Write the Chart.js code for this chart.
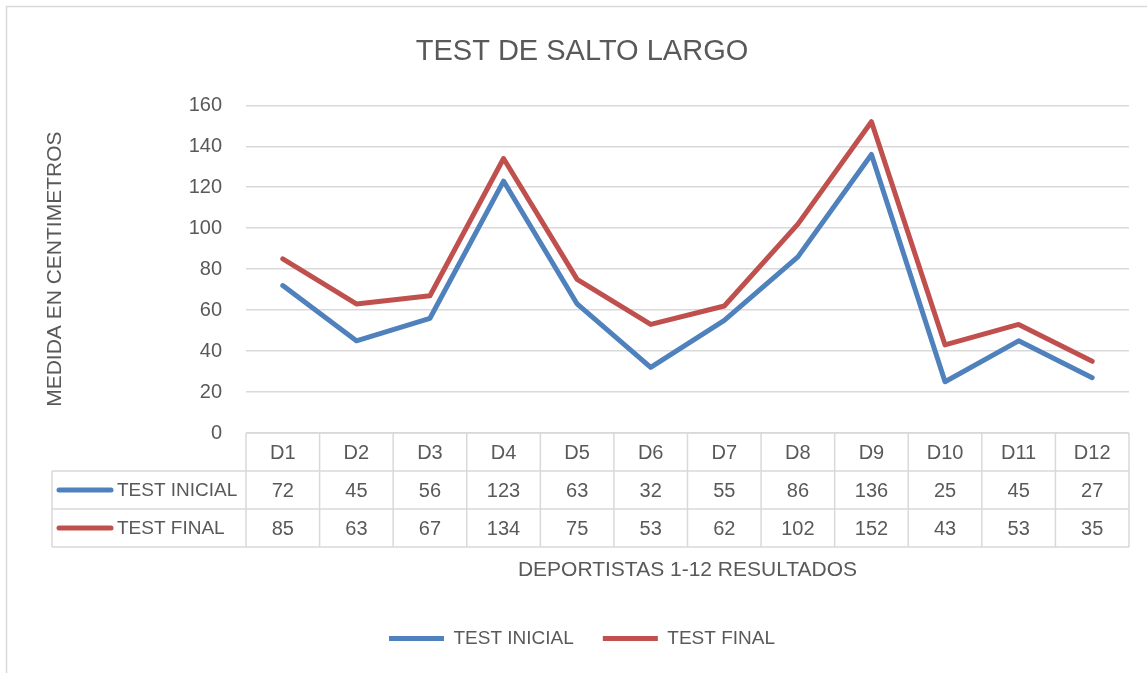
<!DOCTYPE html>
<html>
<head>
<meta charset="utf-8">
<script src="https://cdn.jsdelivr.net/npm/chart.js@4.4.1/dist/chart.umd.min.js"></script>
<style>
  html, body { margin: 0; padding: 0; background: #fff; }
  #wrap { width: 1147px; height: 673px; }
</style>
</head>
<body>
<div id="wrap"><canvas id="lineChart"></canvas></div>
<script>
// data
var categories = ["D1", "D2", "D3", "D4", "D5", "D6", "D7", "D8", "D9", "D10", "D11", "D12"];
var testInicial = [72, 45, 56, 123, 63, 32, 55, 86, 136, 25, 45, 27];
var testFinal = [85, 63, 67, 134, 75, 53, 62, 102, 152, 43, 53, 35];
var seriesNames = ["TEST INICIAL", "TEST FINAL"];
var seriesColors = ["#4f81bd", "#c0504d"];

var textColor = '#595959';
var gridColor = '#d9d9d9';
var fontFamily = '"Liberation Sans", Arial, sans-serif';

// outer frame of the chart object
var frame = {
  id: 'frame',
  beforeDraw: function(chart) {
    var ctx = chart.ctx;
    ctx.save();
    ctx.fillStyle = '#fff';
    ctx.fillRect(0, 0, chart.width, chart.height);
    ctx.strokeStyle = gridColor;
    ctx.lineWidth = 1.5;
    ctx.strokeRect(6.5, 6.5, chart.width + 20, chart.height + 20);
    ctx.restore();
  }
};

// data table under the plot, built on the x scale
var dataTable = {
  id: 'dataTable',
  afterDraw: function(chart) {
    var ctx = chart.ctx;
    var x = chart.scales.x;
    var area = chart.chartArea;
    var top = area.bottom;
    var rowH = 38;
    var tableLeft = 52;
    var half = (x.getPixelForValue(1) - x.getPixelForValue(0)) / 2;
    var rows = [testInicial, testFinal];

    ctx.save();
    ctx.strokeStyle = gridColor;
    ctx.lineWidth = 1.5;
    ctx.beginPath();
    ctx.moveTo(area.left, top);
    ctx.lineTo(area.right, top);
    for (var r = 1; r <= 3; r++) {
      ctx.moveTo(tableLeft, top + r * rowH);
      ctx.lineTo(area.right, top + r * rowH);
    }
    for (var i = 0; i <= categories.length; i++) {
      var px = x.getPixelForValue(i) - half;
      ctx.moveTo(px, top);
      ctx.lineTo(px, top + 3 * rowH);
    }
    ctx.moveTo(tableLeft, top + rowH);
    ctx.lineTo(tableLeft, top + 3 * rowH);
    ctx.stroke();

    ctx.fillStyle = textColor;
    ctx.textAlign = 'center';
    ctx.textBaseline = 'middle';
    ctx.font = '20px ' + fontFamily;
    categories.forEach(function(c, i) {
      ctx.fillText(c, x.getPixelForValue(i), top + rowH / 2 + 1);
    });
    rows.forEach(function(vals, r) {
      var cy = top + (r + 1) * rowH + rowH / 2 + 1;
      vals.forEach(function(v, i) {
        ctx.fillText(String(v), x.getPixelForValue(i), cy);
      });
    });

    // series keys in the first column
    ctx.textAlign = 'left';
    ctx.font = '19px ' + fontFamily;
    ctx.lineCap = 'round';
    ctx.lineWidth = 5;
    seriesNames.forEach(function(name, r) {
      var cy = top + (r + 1) * rowH + rowH / 2;
      ctx.strokeStyle = seriesColors[r];
      ctx.beginPath();
      ctx.moveTo(59, cy);
      ctx.lineTo(111, cy);
      ctx.stroke();
      ctx.fillStyle = textColor;
      ctx.fillText(name, 117, cy + 1);
    });
    ctx.restore();
  }
};

var ctxL = document.getElementById("lineChart").getContext('2d');
var myLineChart = new Chart(ctxL, {
  type: 'line',
  data: {
    labels: categories,
    datasets: [{
      label: seriesNames[0],
      data: testInicial,
      borderColor: seriesColors[0],
      backgroundColor: seriesColors[0],
      borderWidth: 5,
      borderCapStyle: 'round',
      borderJoinStyle: 'round',
      pointRadius: 0,
      tension: 0
    },
    {
      label: seriesNames[1],
      data: testFinal,
      borderColor: seriesColors[1],
      backgroundColor: seriesColors[1],
      borderWidth: 5,
      borderCapStyle: 'round',
      borderJoinStyle: 'round',
      pointRadius: 0,
      tension: 0
    }
    ]
  },
  options: {
    responsive: true,
    maintainAspectRatio: false,
    animation: false,
    layout: { padding: { left: 35, right: 18, top: 0, bottom: 15 } },
    plugins: {
      title: {
        display: true,
        text: 'TEST DE SALTO LARGO',
        color: textColor,
        font: { family: fontFamily, size: 29, weight: 'normal' },
        padding: { top: 35, bottom: 35.5 }
      },
      legend: {
        position: 'bottom',
        labels: {
          color: textColor,
          font: { family: fontFamily, size: 19 },
          usePointStyle: true,
          pointStyle: 'line',
          pointStyleWidth: 55,
          padding: 29
        }
      },
      tooltip: { enabled: false }
    },
    scales: {
      x: {
        offset: true,
        grid: { display: false },
        border: { display: false },
        ticks: { display: false },
        title: {
          display: true,
          text: 'DEPORTISTAS 1-12 RESULTADOS',
          color: textColor,
          font: { family: fontFamily, size: 21 },
          padding: { top: 0, bottom: 17 }
        },
        afterFit: function(scale) { scale.height = 167; }
      },
      y: {
        min: 0,
        max: 160,
        ticks: {
          stepSize: 20,
          color: textColor,
          font: { family: fontFamily, size: 20 },
          padding: 24
        },
        grid: { color: gridColor, lineWidth: 1.5, drawTicks: false },
        border: { display: false },
        title: {
          display: true,
          text: 'MEDIDA EN CENTIMETROS',
          color: textColor,
          font: { family: fontFamily, size: 21 },
          padding: { top: 8 }
        },
        afterFit: function(scale) { scale.width = 211; }
      }
    }
  },
  plugins: [frame, dataTable]
});
</script>
</body>
</html>
